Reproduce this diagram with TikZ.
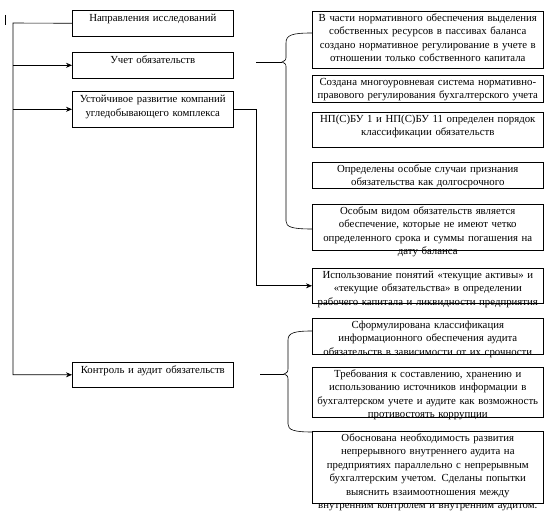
\documentclass[tikz,border=0pt]{standalone}
\usepackage{fontspec}
\setmainfont{Liberation Serif}
\usetikzlibrary{arrows.meta}

\begin{document}
\begin{tikzpicture}[x=1pt,y=-1pt,>={Stealth[length=6pt,width=5pt]},semithick,
                    font=\fontsize{10.8}{13.5}\selectfont]
  \tikzstyle{box}=[draw,anchor=north west,align=center,inner ysep=0pt]
  \tikzstyle{left box}=[box,inner xsep=2pt,text width=157pt,
                        text height=11.5pt,text depth=#1]
  \tikzstyle{right box}=[box,inner xsep=-2pt,text width=235pt,
                         text height=9.8pt,text depth=#1]
  \useasboundingbox (0,0) rectangle (552,518);

  \node[left box=14.5pt] (A) at (72,10)  {Направления исследований};
  \node[left box=14.5pt] (B) at (72,52)  {Учет обязательств};
  \node[left box=24.5pt] (C) at (72,91)  {Устойчивое развитие компаний\\угледобывающего комплекса};
  \node[left box=13.5pt] (D) at (72,362) {Контроль и аудит обязательств};

  \node[right box=47.2pt] (R1) at (312,11)  {В части нормативного обеспечения выделения\\собственных ресурсов в пассивах баланса\\создано нормативное регулирование в учете в\\отношении только собственного капитала};
  \node[right box=17.2pt] (R2) at (312,75)  {Создана многоуровневая система нормативно-\\правового регулирования бухгалтерского учета};
  \node[right box=25.2pt] (R3) at (312,112) {НП(С)БУ 1 и НП(С)БУ 11 определен порядок\\классификации обязательств};
  \node[right box=16.2pt] (R4) at (312,162) {Определены особые случаи признания\\обязательства как долгосрочного};
  \node[right box=36.2pt] (R5) at (312,204) {Особым видом обязательств является\\обеспечение, которые не имеют четко\\определенного срока и суммы погашения на\\дату баланса};
  \node[right box=25.2pt] (R6) at (312,268) {Использование понятий «текущие активы» и\\«текущие обязательства» в определении\\рабочего капитала и ликвидности предприятия};
  \node[right box=26.2pt] (R7) at (312,318) {Сформулирована классификация\\информационного обеспечения аудита\\обязательств в зависимости от их срочности};
  \node[right box=40.2pt] (R8) at (312,367) {Требования к составлению, хранению и\\использованию источников информации в\\бухгалтерском учете и аудите как возможность\\противостоять коррупции};
  \node[right box=62.2pt] (R9) at (312,431) {Обоснована необходимость развития\\непрерывного внутреннего аудита на\\предприятиях параллельно с непрерывным\\бухгалтерским учетом. Сделаны попытки\\выяснить взаимоотношения между\\внутренним контролем и внутренним аудитом.};

  \coordinate (trunk) at (13,23);
  \coordinate (tipA)  at (256,62);
  \coordinate (tipB)  at (260,374);

  % tree on the left
  \draw (5,15) -- (5,25);
  \draw[->] (A.west) -- (trunk) |- (D.west);
  \draw[->] (trunk |- B.west) -- (B.west);
  \draw[->] (trunk |- C.west) -- (C.west);
  \draw[->] (C.east) -- ++(23,0) |- (R6.west);

  % braces
  \draw (312,33) .. controls (292,33) and (286,35) .. (286,43) -- (286,56)
        .. controls (286,60) .. (282,62) .. controls (286,64) .. (286,68)
        -- (286,221) .. controls (286,227) and (292,229) .. (312,229);
  \draw (tipA) -- (282,62);
  \draw (312,331) .. controls (294,331) and (288,333) .. (288,340) -- (288,367)
        .. controls (288,372) .. (284,374) .. controls (288,376) .. (288,381)
        -- (288,424) .. controls (288,430) and (294,432) .. (312,432);
  \draw (tipB) -- (284,374);
\end{tikzpicture}
\end{document}
